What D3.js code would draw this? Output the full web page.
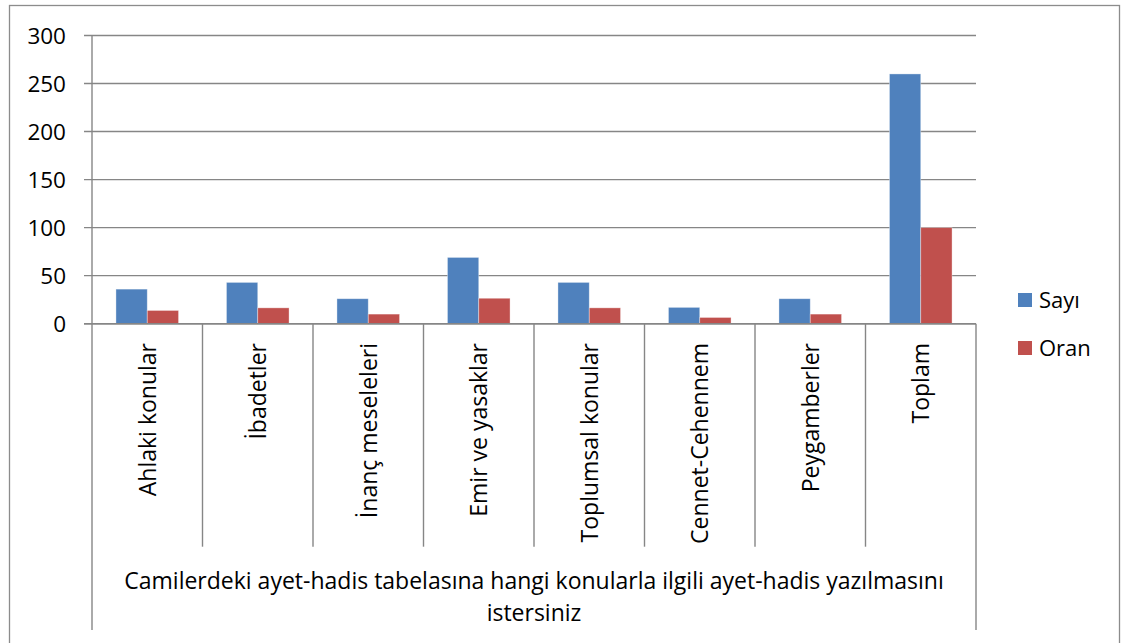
<!DOCTYPE html>
<html><head><meta charset="utf-8">
<script src="https://cdn.jsdelivr.net/npm/d3@7"></script>
<style>
body{margin:0;background:#fff;}
text{font-family:"Open Sans",Lato,sans-serif;fill:#000;}
</style></head>
<body><svg id="c" width="1121" height="643"></svg>
<script>
const categories = ["Ahlaki konular","İbadetler","İnanç meseleleri","Emir ve yasaklar","Toplumsal konular","Cennet-Cehennem","Peygamberler","Toplam"];
const seriesNames = ["Sayı","Oran"];
const sayi = [36,43,26,69,43,17,26,260];
const oran = [13.8,16.5,10,26.5,16.5,6.5,10,100];
const yTicks = [0,50,100,150,200,250,300];
const groupTitle = ["Camilerdeki ayet-hadis tabelasına hangi konularla ilgili ayet-hadis yazılmasını","istersiniz"];
const colors = ["#4F81BD","#C0504D"];

const svg = d3.select("#c");
const L=92, R=976, T=35.5, B=323.7;
const FS = 23;
const y = d3.scaleLinear().domain([0,300]).range([B,T]);
const x = d3.scaleBand().domain(categories).range([L,R]).padding(0);
const x1 = d3.scaleBand().domain(seriesNames).range([0,x.bandwidth()]).paddingInner(0).paddingOuter(0.765);
const grid="#868686";

// frame
svg.append("rect").attr("x",9.5).attr("y",5.5).attr("width",1110).attr("height",640)
  .attr("fill","none").attr("stroke","#8c8c8c").attr("stroke-width",1.3);

// gridlines + ticks
svg.append("g").selectAll("line").data(yTicks).join("line")
  .attr("x1",L-8).attr("x2",R).attr("y1",d=>y(d)).attr("y2",d=>y(d))
  .attr("stroke",grid).attr("stroke-width",1.4);
svg.append("g").selectAll("text").data(yTicks).join("text")
  .attr("x",66).attr("y",d=>y(d)).attr("dy","0.36em").attr("text-anchor","end")
  .attr("font-size",FS-0.5).text(d=>d);

// bars
const data = categories.map((c,i)=>({c, v:[sayi[i],oran[i]]}));
const g = svg.append("g");
data.forEach(d=>{
  seriesNames.forEach((s,j)=>{
    g.append("rect").attr("x",x(d.c)+x1(s)).attr("width",x1.bandwidth())
     .attr("y",y(d.v[j])).attr("height",B-y(d.v[j]))
     .attr("fill",colors[j]).attr("stroke","rgba(255,255,255,0.45)").attr("stroke-width",0.8);
  });
});

// axis lines
svg.append("line").attr("x1",L).attr("x2",L).attr("y1",T).attr("y2",630).attr("stroke",grid).attr("stroke-width",1.4);
svg.append("line").attr("x1",L-8).attr("x2",R).attr("y1",B).attr("y2",B).attr("stroke",grid).attr("stroke-width",1.6);
const bounds = categories.map(c=>x(c)).concat([R]);
svg.append("g").selectAll("line").data(bounds.slice(1)).join("line")
  .attr("x1",d=>d).attr("x2",d=>d).attr("y1",B).attr("y2",(d,i)=> i===bounds.length-2 ? 630 : 546.7)
  .attr("stroke",grid).attr("stroke-width",1.4);

// category labels
svg.append("g").selectAll("text").data(categories).join("text")
  .attr("transform",d=>`translate(${x(d)+x.bandwidth()/2},343) rotate(-90)`)
  .attr("text-anchor","end").attr("dy","0.36em").attr("font-size",FS).text(d=>d);

// group title
svg.append("g").selectAll("text").data(groupTitle).join("text")
  .attr("x",(L+R)/2).attr("y",(d,i)=>589+i*32).attr("text-anchor","middle")
  .attr("font-size",FS).text(d=>d);

// legend
const lg = svg.append("g");
seriesNames.forEach((s,j)=>{
  lg.append("rect").attr("x",1018).attr("y",293+j*48).attr("width",14).attr("height",14).attr("fill",colors[j]);
  lg.append("text").attr("x",1039).attr("y",300+j*48).attr("dy","0.36em").attr("font-size",FS-1).text(s);
});
</script></body></html>
